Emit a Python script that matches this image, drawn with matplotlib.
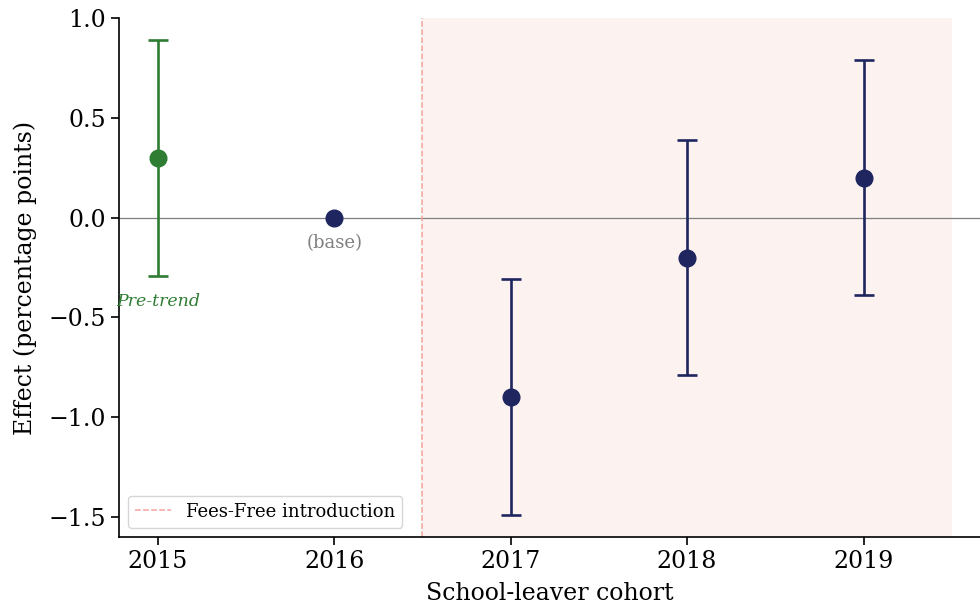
import numpy as np
import matplotlib
matplotlib.use('Agg')
import matplotlib.pyplot as plt

plt.rcParams['font.family'] = 'DejaVu Serif'

# cohort estimates (percentage points) with 95% CI
years = [2015, 2016, 2017, 2018, 2019]
effect = [0.30, 0.00, -0.90, -0.20, 0.20]
ci_low = [-0.29, 0.00, -1.49, -0.79, -0.39]
ci_high = [0.89, 0.00, -0.31, 0.39, 0.79]

green = '#2e7d32'
navy = '#1f265f'

fig = plt.figure(figsize=(9.8, 6.12), dpi=100)
ax = fig.add_axes([119/980, 1-537/612, 1-119/980, (537-18)/612])

ax.axvspan(2016.5, 2019.5, color='#fbeeec', alpha=0.7, lw=0)
ax.axhline(0, color='grey', lw=0.9)
ax.axvline(2016.5, color='#f4a09a', ls='--', lw=1.1, label='Fees-Free introduction')

for yr, e, lo, hi in zip(years, effect, ci_low, ci_high):
    c = green if yr < 2016 else navy
    if yr == 2016:
        ax.plot(yr, e, 'o', color=c, ms=12, zorder=4)
        continue
    ax.errorbar(yr, e, yerr=[[e-lo], [hi-e]], fmt='o', color=c, ms=12,
                elinewidth=1.9, capsize=7, capthick=1.9, zorder=4)

ax.text(2016, -0.13, '(base)', ha='center', va='center', color='grey', fontsize=13)
ax.text(2015, -0.42, 'Pre-trend', ha='center', va='center', color=green,
        fontsize=12.5, style='italic')

ax.set_xlim(2014.78, 2019.66)
ax.set_ylim(-1.6, 1.0)
ax.set_xticks(years)
ax.set_yticks([-1.5, -1.0, -0.5, 0.0, 0.5, 1.0])
ax.tick_params(labelsize=17, length=6, width=1.2)
ax.spines['top'].set_visible(False)
ax.spines['right'].set_visible(False)
ax.spines['left'].set_linewidth(1.2)
ax.spines['bottom'].set_linewidth(1.2)
ax.set_xlabel('School-leaver cohort', fontsize=17, labelpad=6)
ax.set_ylabel('Effect (percentage points)', fontsize=17, labelpad=8)
ax.legend(loc='lower left', fontsize=13, frameon=True)

fig.savefig('out.png', dpi=100)
